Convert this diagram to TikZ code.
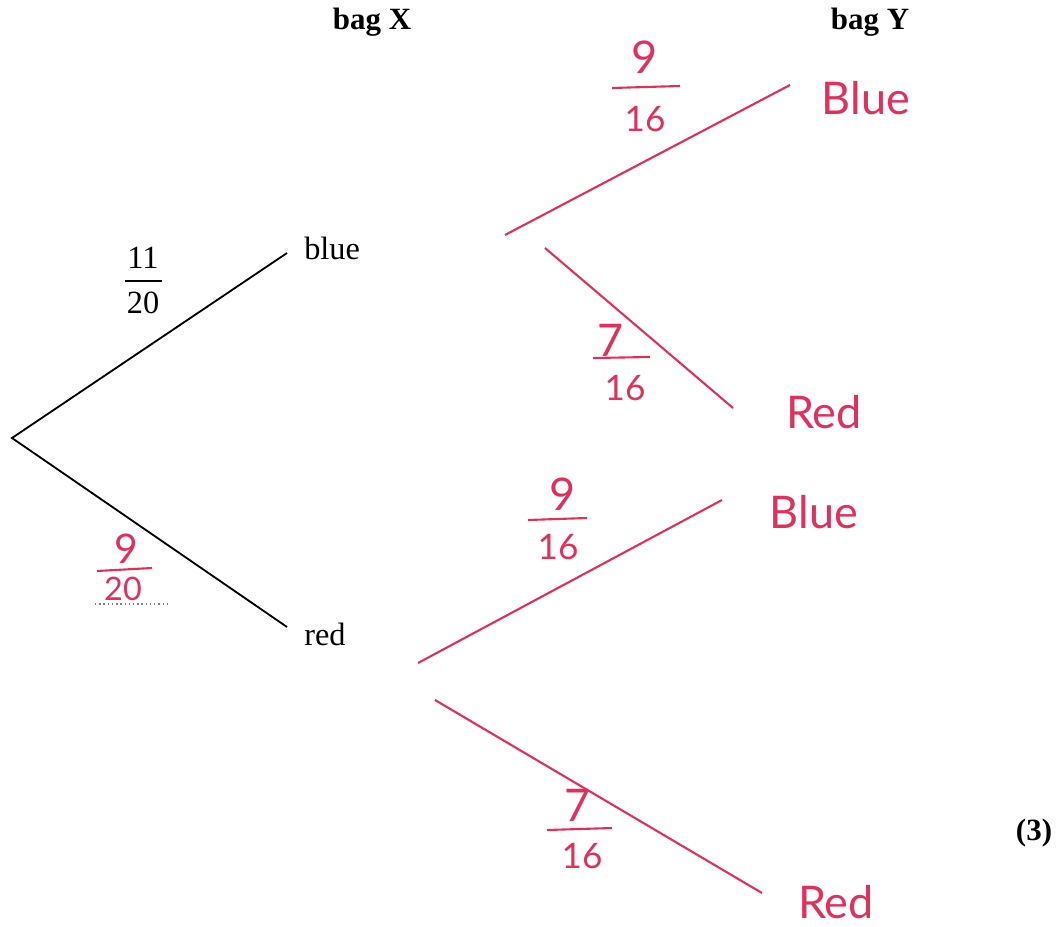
\documentclass[tikz,border=0pt]{standalone}
\usepackage{fontspec}
\setmainfont{Liberation Serif}
\newfontfamily\hand{Lato}
\definecolor{pen}{HTML}{E2305C}
\begin{document}
\begin{tikzpicture}[x=0.025cm,y=-0.025cm,
  blk/.style={line width=1.3pt,black},
  pl/.style={line width=1.5pt,pen},
  lab/.style={font=\fontsize{23}{26}\selectfont,inner sep=0pt},
  hd/.style={font=\bfseries\fontsize{22}{25}\selectfont,inner sep=0pt},
  hw/.style={font=\hand\fontsize{32}{34}\selectfont,text=pen,inner sep=0pt},
  hn/.style={font=\hand\fontsize{25}{28}\selectfont,text=pen,inner sep=0pt}]
\useasboundingbox (0,0) rectangle (1062,926);
% headers
\node[hd] (bx) at (372,22) {bag X};
\node[hd] (by) at (870,22) {bag Y};
\node[hd] (mk) at (1034,833) {(3)};
% first stage
\coordinate (root) at (12,438);
\coordinate (eb) at (287,253);
\coordinate (er) at (287,627);
\draw[blk] (eb) -- (root) -- (er);
\node[lab,anchor=west] (blue) at (304,248) {blue};
\node[lab,anchor=west] (red) at (304,634) {red};
\node[lab] (n11) at (143,258) {11};
\coordinate (b11a) at (125,281); \coordinate (b11b) at (162,281);
\draw[line width=1pt] (b11a) -- (b11b);
\node[lab] (d20) at (143,303) {20};
% 9/20
\node[hw,font=\hand\fontsize{29}{31}\selectfont] (n9a) at (126,549) {9};
\coordinate (f1a) at (97,571); \coordinate (f1b) at (152,568);
\draw[pl] (f1a) -- (f1b);
\node[hn,font=\hand\fontsize{23}{26}\selectfont] (d20b) at (123,589) {20};
\coordinate (u1) at (95,604); \coordinate (u2) at (170,604);
\draw[gray,line width=1pt,dotted] (u1) -- (u2);
% second stage lines
\coordinate (s1a) at (505,235); \coordinate (s1b) at (790,85);
\coordinate (s2a) at (545,248); \coordinate (s2b) at (733,408);
\coordinate (s3a) at (418,663); \coordinate (s3b) at (722,500);
\coordinate (s4a) at (435,700); \coordinate (s4b) at (762,893);
\draw[pl] (s1a) -- (s1b);
\draw[pl] (s2a) -- (s2b);
\draw[pl] (s3a) -- (s3b);
\draw[pl] (s4a) -- (s4b);
% outcome labels
\node[hw] (o1) at (866,98) {Blue};
\node[hw] (o2) at (824,412) {Red};
\node[hw] (o3) at (814,512) {Blue};
\node[hw] (o4) at (836,902) {Red};
% fractions
\node[hw] (a9) at (645,57) {9};
\coordinate (ab1) at (612,88); \coordinate (ab2) at (680,86);
\draw[pl] (ab1) -- (ab2);
\node[hn] (a16) at (645,119) {16};
\node[hw] (b7) at (611,340) {7};
\coordinate (bb1) at (593,358); \coordinate (bb2) at (650,357);
\draw[pl] (bb1) -- (bb2);
\node[hn] (b16) at (625,388) {16};
\node[hw] (c9) at (563,494) {9};
\coordinate (cb1) at (528,520); \coordinate (cb2) at (587,518);
\draw[pl] (cb1) -- (cb2);
\node[hn] (c16) at (558,547) {16};
\node[hw] (e7) at (578,805) {7};
\coordinate (eb1) at (547,830); \coordinate (eb2) at (612,828);
\draw[pl] (eb1) -- (eb2);
\node[hn] (e16) at (582,856) {16};
\end{tikzpicture}
\end{document}
